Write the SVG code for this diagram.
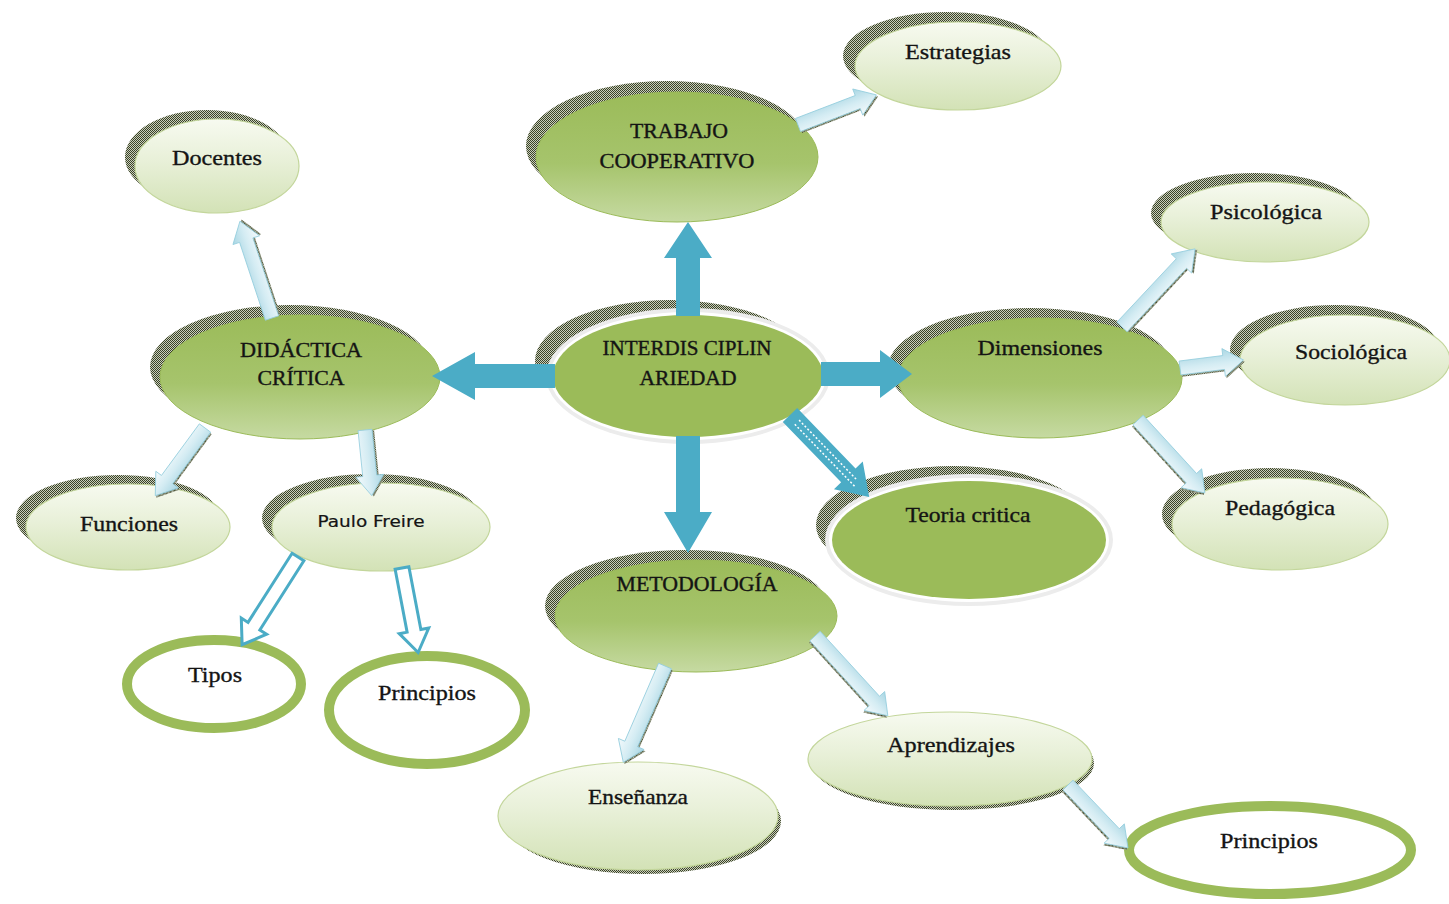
<svg xmlns="http://www.w3.org/2000/svg" width="1449" height="904" viewBox="0 0 1449 904">
  <defs>
    <!-- dithered drop-shadow texture -->
    <pattern id="dither" width="2" height="2" patternUnits="userSpaceOnUse">
      <rect x="0" y="0" width="2" height="2" fill="#c9cdbd"/>
      <rect x="0" y="0" width="1" height="1" fill="#3a4326"/>
      <rect x="1" y="1" width="1" height="1" fill="#3a4326"/>
    </pattern>
    <linearGradient id="gDark" x1="0" y1="0" x2="0" y2="1">
      <stop offset="0" stop-color="#9bbb59"/>
      <stop offset="0.55" stop-color="#a6c46c"/>
      <stop offset="1" stop-color="#c6daa2"/>
    </linearGradient>
    <linearGradient id="gLight" x1="0" y1="0" x2="0" y2="1">
      <stop offset="0" stop-color="#f7faf0"/>
      <stop offset="0.45" stop-color="#e8f0d8"/>
      <stop offset="1" stop-color="#d3e2b6"/>
    </linearGradient>
    <linearGradient id="gArrow" x1="0" y1="0" x2="0" y2="1">
      <stop offset="0" stop-color="#a9d6e3"/>
      <stop offset="0.5" stop-color="#d4ecf3"/>
      <stop offset="1" stop-color="#f4fafc"/>
    </linearGradient>
    <style>
      .shadow { fill: url(#dither); }
      .dark { fill: url(#gDark); stroke: #9bbb59; stroke-width: 1; }
      .light { fill: url(#gLight); stroke: #c3d69b; stroke-width: 1.2; }
      .solid { fill: #9bbb59; }
      .halo1 { fill: #ececec; }
      .halo2 { fill: #ffffff; }
      .ring { fill: #ffffff; stroke: #9bbb59; stroke-width: 10; }
      .txt { font-family: "Liberation Serif", "Times New Roman", serif; font-size: 22px; fill: #141414; stroke: #141414; stroke-width: 0.35; text-anchor: middle; }
      .cap { font-size: 20px; }
      .sans { font-family: "DejaVu Sans", "Liberation Sans", sans-serif; font-size: 15px; stroke-width: 0.2; }
      .thick { fill: #4bacc6; }
      .soft { fill: url(#gArrow); stroke: #93cddd; stroke-width: 0.8; }
      .softShadow { fill: url(#dither); }
      .hollow { fill: #ffffff; stroke: #4bacc6; stroke-width: 3; stroke-linejoin: miter; }
      .dash { stroke: #ffffff; stroke-width: 1.5; stroke-dasharray: 2 2; fill: none; }
    </style>
  </defs>

  <!-- central node -->
  <g id="n-interdisciplinariedad">
    <ellipse class="shadow" cx="670" cy="361" rx="135" ry="61"/>
    <ellipse class="halo1" cx="688" cy="376" rx="142" ry="68"/>
    <ellipse class="halo2" cx="688" cy="376" rx="138" ry="64"/>
    <ellipse class="solid" cx="688" cy="376" rx="135" ry="61"/>
    <text class="txt cap" x="687" y="355" textLength="169" lengthAdjust="spacingAndGlyphs">INTERDIS CIPLIN</text>
    <text class="txt cap" x="688" y="385" textLength="97" lengthAdjust="spacingAndGlyphs">ARIEDAD</text>
  </g>

  <g id="n-trabajo">
    <ellipse class="shadow" cx="667" cy="146" rx="141" ry="65"/>
    <ellipse class="dark" cx="677" cy="157" rx="141" ry="65"/>
    <text class="txt cap" x="679" y="138" textLength="98" lengthAdjust="spacingAndGlyphs">TRABAJO</text>
    <text class="txt cap" x="677" y="168" textLength="155" lengthAdjust="spacingAndGlyphs">COOPERATIVO</text>
  </g>

  <g id="n-estrategias">
    <ellipse class="shadow" cx="946" cy="56" rx="103" ry="44"/>
    <ellipse class="light" cx="958" cy="66" rx="103" ry="44"/>
    <text class="txt" x="958" y="59" textLength="106" lengthAdjust="spacingAndGlyphs">Estrategias</text>
  </g>

  <g id="n-docentes">
    <ellipse class="shadow" cx="207" cy="157" rx="82" ry="47"/>
    <ellipse class="light" cx="217" cy="166" rx="82" ry="47"/>
    <text class="txt" x="217" y="165" textLength="90" lengthAdjust="spacingAndGlyphs">Docentes</text>
  </g>

  <g id="n-didactica">
    <ellipse class="shadow" cx="290" cy="367" rx="140" ry="62"/>
    <ellipse class="dark" cx="300" cy="377" rx="140" ry="62"/>
    <text class="txt cap" x="301" y="357" textLength="122" lengthAdjust="spacingAndGlyphs">DIDÁCTICA</text>
    <text class="txt cap" x="301" y="385" textLength="87" lengthAdjust="spacingAndGlyphs">CRÍTICA</text>
  </g>

  <g id="n-funciones">
    <ellipse class="shadow" cx="118" cy="518" rx="102" ry="43"/>
    <ellipse class="light" cx="128" cy="527" rx="102" ry="43"/>
    <text class="txt" x="129" y="531" textLength="98" lengthAdjust="spacingAndGlyphs">Funciones</text>
  </g>

  <g id="n-paulo">
    <ellipse class="shadow" cx="371" cy="518" rx="109" ry="44"/>
    <ellipse class="light" cx="381" cy="527" rx="109" ry="44"/>
    <text class="txt sans" x="371" y="527" textLength="107" lengthAdjust="spacingAndGlyphs">Paulo Freire</text>
  </g>

  <g id="n-tipos">
    <ellipse class="ring" cx="214" cy="684" rx="87" ry="44"/>
    <text class="txt" x="215" y="682" textLength="54" lengthAdjust="spacingAndGlyphs">Tipos</text>
  </g>

  <g id="n-principios-1">
    <ellipse class="ring" cx="427" cy="710" rx="98" ry="54"/>
    <text class="txt" x="427" y="700" textLength="98" lengthAdjust="spacingAndGlyphs">Principios</text>
  </g>

  <g id="n-metodologia">
    <ellipse class="shadow" cx="686" cy="606" rx="141" ry="56"/>
    <ellipse class="dark" cx="696" cy="616" rx="141" ry="56"/>
    <text class="txt cap" x="697" y="591" textLength="161" lengthAdjust="spacingAndGlyphs">METODOLOGÍA</text>
  </g>

  <g id="n-ensenanza">
    <ellipse class="shadow" cx="643" cy="821" rx="138" ry="53"/>
    <ellipse class="light" cx="638" cy="816" rx="140" ry="54"/>
    <text class="txt" x="638" y="804" textLength="100" lengthAdjust="spacingAndGlyphs">Enseñanza</text>
  </g>

  <g id="n-aprendizajes">
    <ellipse class="shadow" cx="953" cy="763" rx="141" ry="47"/>
    <ellipse class="light" cx="950" cy="759" rx="142" ry="47"/>
    <text class="txt" x="951" y="752" textLength="128" lengthAdjust="spacingAndGlyphs">Aprendizajes</text>
  </g>

  <g id="n-principios-2">
    <ellipse class="ring" cx="1270" cy="850" rx="141" ry="44"/>
    <text class="txt" x="1269" y="848" textLength="98" lengthAdjust="spacingAndGlyphs">Principios</text>
  </g>

  <g id="n-teoria">
    <ellipse class="shadow" cx="953" cy="525" rx="137" ry="59"/>
    <ellipse class="halo1" cx="969" cy="540" rx="144" ry="66"/>
    <ellipse class="halo2" cx="969" cy="540" rx="140" ry="62"/>
    <ellipse class="solid" cx="969" cy="540" rx="137" ry="59"/>
    <text class="txt" x="968" y="522" textLength="125" lengthAdjust="spacingAndGlyphs">Teoria critica</text>
  </g>

  <g id="n-dimensiones">
    <ellipse class="shadow" cx="1030" cy="368" rx="142" ry="60"/>
    <ellipse class="dark" cx="1040" cy="378" rx="142" ry="60"/>
    <text class="txt" x="1040" y="355" textLength="125" lengthAdjust="spacingAndGlyphs">Dimensiones</text>
  </g>

  <g id="n-psicologica">
    <ellipse class="shadow" cx="1255" cy="213" rx="104" ry="40"/>
    <ellipse class="light" cx="1265" cy="222" rx="104" ry="40"/>
    <text class="txt" x="1266" y="219" textLength="112" lengthAdjust="spacingAndGlyphs">Psicológica</text>
  </g>

  <g id="n-sociologica">
    <ellipse class="shadow" cx="1335" cy="350" rx="105" ry="45"/>
    <ellipse class="light" cx="1345" cy="360" rx="105" ry="45"/>
    <text class="txt" x="1351" y="359" textLength="112" lengthAdjust="spacingAndGlyphs">Sociológica</text>
  </g>

  <g id="n-pedagogica">
    <ellipse class="shadow" cx="1270" cy="514" rx="108" ry="46"/>
    <ellipse class="light" cx="1280" cy="524" rx="108" ry="46"/>
    <text class="txt" x="1280" y="515" textLength="110" lengthAdjust="spacingAndGlyphs">Pedagógica</text>
  </g>

  <!-- connectors -->
  <g id="connectors">
    <!-- bold arrows leaving the central node -->
    <path class="thick" d="M676,316 V258 H664 L688,222 L712,258 H700 V316 Z"/>
    <path class="thick" d="M555,364 H475 V352 L432,376 L475,400 V388 H555 Z"/>
    <path class="thick" d="M821,362 H880 V350 L912,374 L880,398 V386 H821 Z"/>
    <path class="thick" d="M676,436 V512 H664 L688,553 L712,512 H700 V436 Z"/>
    <g transform="translate(790,415) rotate(46)">
      <path class="thick" d="M0,-10 H84 V-20 L114,0 L84,20 V10 H0 Z"/>
      <path class="dash" d="M10,-3 H92 M10,3 H98"/>
    </g>

    <!-- soft arrows -->
    <g transform="translate(272,318) rotate(-108.3)">
      <path class="softShadow" transform="translate(1,2)" d="M0,-7 H82 V-14 L102,0 L82,14 V7 H0 Z"/>
      <path class="soft" d="M0,-7 H82 V-14 L102,0 L82,14 V7 H0 Z"/>
    </g>
    <g transform="translate(205,428) rotate(126.3)">
      <path class="softShadow" transform="translate(1,-2)" d="M0,-7 H64 V-14 L84,0 L64,14 V7 H0 Z"/>
      <path class="soft" d="M0,-7 H64 V-14 L84,0 L64,14 V7 H0 Z"/>
    </g>
    <g transform="translate(365,430) rotate(84.1)">
      <path class="softShadow" transform="translate(1,-2)" d="M0,-7 H46 V-14 L66,0 L46,14 V7 H0 Z"/>
      <path class="soft" d="M0,-7 H46 V-14 L66,0 L46,14 V7 H0 Z"/>
    </g>
    <g transform="translate(798,125) rotate(-21)">
      <path class="softShadow" transform="translate(1,2)" d="M0,-7 H64 V-14 L84,0 L64,14 V7 H0 Z"/>
      <path class="soft" d="M0,-7 H64 V-14 L84,0 L64,14 V7 H0 Z"/>
    </g>
    <g transform="translate(1122,327) rotate(-46.9)">
      <path class="softShadow" transform="translate(1,2)" d="M0,-7 H87 V-14 L107,0 L87,14 V7 H0 Z"/>
      <path class="soft" d="M0,-7 H87 V-14 L107,0 L87,14 V7 H0 Z"/>
    </g>
    <g transform="translate(1180,368) rotate(-7.2)">
      <path class="softShadow" transform="translate(1,2)" d="M0,-7 H44 V-14 L64,0 L44,14 V7 H0 Z"/>
      <path class="soft" d="M0,-7 H44 V-14 L64,0 L44,14 V7 H0 Z"/>
    </g>
    <g transform="translate(1138,420) rotate(47.5)">
      <path class="softShadow" transform="translate(1,2)" d="M0,-7 H79 V-14 L99,0 L79,14 V7 H0 Z"/>
      <path class="soft" d="M0,-7 H79 V-14 L99,0 L79,14 V7 H0 Z"/>
    </g>
    <g transform="translate(665,666) rotate(113.4)">
      <path class="softShadow" transform="translate(1,-2)" d="M0,-7 H85 V-14 L105,0 L85,14 V7 H0 Z"/>
      <path class="soft" d="M0,-7 H85 V-14 L105,0 L85,14 V7 H0 Z"/>
    </g>
    <g transform="translate(815,636) rotate(47.6)">
      <path class="softShadow" transform="translate(1,2)" d="M0,-7 H88 V-14 L108,0 L88,14 V7 H0 Z"/>
      <path class="soft" d="M0,-7 H88 V-14 L108,0 L88,14 V7 H0 Z"/>
    </g>
    <g transform="translate(1068,785) rotate(46.4)">
      <path class="softShadow" transform="translate(1,2)" d="M0,-7 H67 V-14 L87,0 L67,14 V7 H0 Z"/>
      <path class="soft" d="M0,-7 H67 V-14 L87,0 L67,14 V7 H0 Z"/>
    </g>

    <!-- hollow arrows -->
    <path class="hollow" transform="translate(298,557) rotate(122.5)" d="M0,-7 H82 V-15 L104,0 L82,15 V7 H0 Z"/>
    <path class="hollow" transform="translate(402,568) rotate(79.2)" d="M0,-7 H64 V-15 L86,0 L64,15 V7 H0 Z"/>
  </g>
</svg>
